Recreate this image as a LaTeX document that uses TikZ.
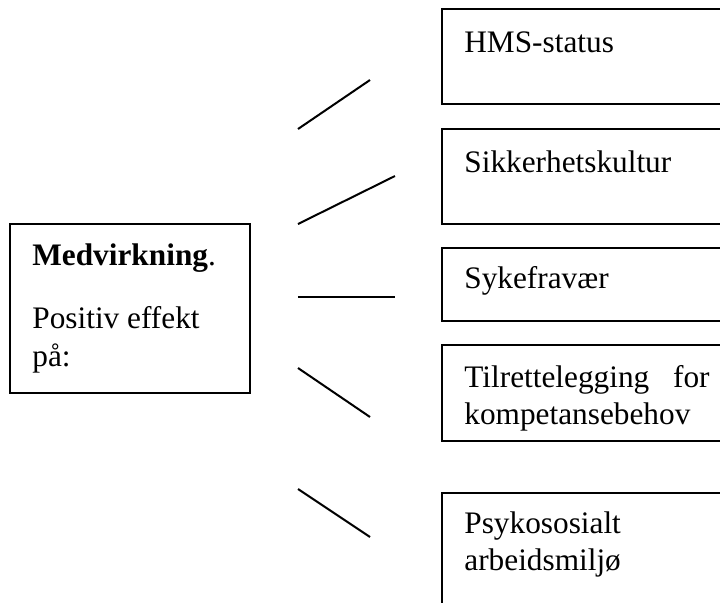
\documentclass[tikz,border=0pt]{standalone}
\usepackage{fontspec}
\setmainfont{Liberation Serif}
\begin{document}
\begin{tikzpicture}[x=0.5pt,y=-0.5pt,
  box/.style={draw, line width=1pt, inner sep=0pt, outer sep=0pt, anchor=north west},
  lbl/.style={anchor=base west, inner sep=0pt, font=\fontsize{15.65}{18}\selectfont},
  conn/.style={line width=1pt}]
\useasboundingbox (0,0) rectangle (720,602);
\clip (0,0) rectangle (720,602);
% boxes
\node[box, minimum width=120pt, minimum height=84.5pt] (main) at (10,224) {};
\node[box, minimum width=150pt, minimum height=47.5pt] (b1) at (442,9) {};
\node[box, minimum width=150pt, minimum height=47.5pt] (b2) at (442,129) {};
\node[box, minimum width=150pt, minimum height=36.5pt] (b3) at (442,248) {};
\node[box, minimum width=150pt, minimum height=48pt] (b4) at (442,345) {};
\node[box, minimum width=150pt, minimum height=70pt] (b5) at (442,493) {};
% texts
\node[lbl] (t1) at (32,265) {\textbf{Medvirkning}.};
\node[lbl] (t2) at (32,328) {Positiv effekt};
\node[lbl] (t3) at (32,366) {på:};
\node[lbl] (h1) at (464,52) {HMS-status};
\node[lbl] (h2) at (464,172) {Sikkerhetskultur};
\node[lbl] (h3) at (464,288) {Sykefravær};
\node[lbl] (h4a) at (464,387) {Tilrettelegging};
\node[lbl, anchor=base east] (h4b) at (710,387) {for};
\node[lbl] (h4c) at (464,424) {kompetansebehov};
\node[lbl] (h5a) at (464,533) {Psykososialt};
\node[lbl] (h5b) at (464,570) {arbeidsmiljø};
% free connectors
\coordinate (l1a) at (298,129); \coordinate (l1b) at (370,80);
\coordinate (l2a) at (298,224); \coordinate (l2b) at (395,176);
\coordinate (l3a) at (298,297); \coordinate (l3b) at (395,297);
\coordinate (l4a) at (298,368); \coordinate (l4b) at (370,417);
\coordinate (l5a) at (298,489); \coordinate (l5b) at (370,537);
\draw[conn] (l1a) -- (l1b);
\draw[conn] (l2a) -- (l2b);
\draw[conn] (l3a) -- (l3b);
\draw[conn] (l4a) -- (l4b);
\draw[conn] (l5a) -- (l5b);
\end{tikzpicture}
\end{document}
